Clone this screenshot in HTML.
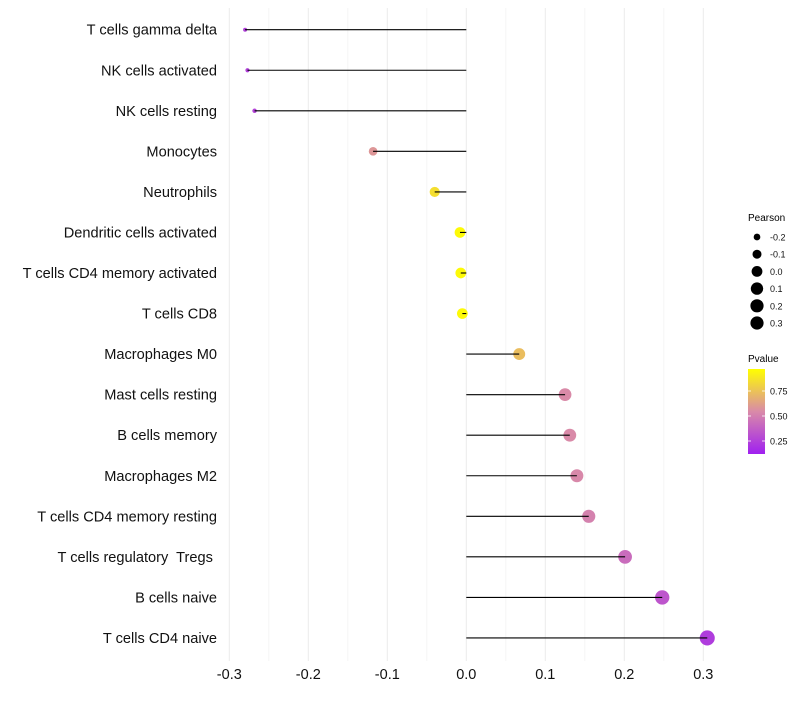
<!DOCTYPE html>
<html><head><meta charset="utf-8"><style>
body{margin:0;background:#fff;font-family:"Liberation Sans",sans-serif}
text{white-space:pre}
</style></head><body>
<svg id="chart" width="800" height="700" xmlns="http://www.w3.org/2000/svg">
<g id="grid"></g><g id="marks"></g><g id="labels"></g>
<g id="legend">
<text x="748" y="221" font-size="10">Pearson</text>
<g id="sizeleg"></g>
<text x="748" y="362" font-size="10">Pvalue</text>
<defs><linearGradient id="pg" x1="0" y1="1" x2="0" y2="0">
<stop offset="0" stop-color="#a020f0"/><stop offset="0.5" stop-color="#d98aa8"/><stop offset="1" stop-color="#ffff00"/></linearGradient></defs>
<rect x="748" y="369" width="17" height="85" fill="url(#pg)"/>
<g id="cbticks"></g>
</g>
</svg>
<script>
const categories=["T cells gamma delta","NK cells activated","NK cells resting","Monocytes","Neutrophils","Dendritic cells activated","T cells CD4 memory activated","T cells CD8","Macrophages M0","Mast cells resting","B cells memory","Macrophages M2","T cells CD4 memory resting","T cells regulatory  Tregs ","B cells naive","T cells CD4 naive"];
const pearson=[-0.280,-0.277,-0.268,-0.118,-0.040,-0.008,-0.007,-0.005,0.067,0.125,0.131,0.140,0.155,0.201,0.248,0.305];
const pvalue=[0.15,0.15,0.17,0.55,0.86,0.98,0.98,0.98,0.72,0.5,0.5,0.49,0.46,0.36,0.25,0.13];
const xTicks=[-0.3,-0.2,-0.1,0.0,0.1,0.2,0.3];
const sizeLegend=[-0.2,-0.1,0.0,0.1,0.2,0.3];
const pTicks=[0.25,0.50,0.75];
const NS="http://www.w3.org/2000/svg";
const x=v=>466.3+v*790;
const y=i=>29.7+i*40.55;
const r=v=>Math.sqrt(Math.max(1,4+90*(v+0.28)));
function hex(h){return [1,3,5].map(k=>parseInt(h.substr(k,2),16));}
function col(p){const a=hex("#a020f0"),m=hex("#d98aa8"),b=hex("#ffff00");let c0,c1,t;
 if(p<0.5){c0=a;c1=m;t=p/0.5}else{c0=m;c1=b;t=(p-0.5)/0.5}
 return "rgb("+c0.map((c,k)=>Math.round(c+(c1[k]-c)*t)).join(",")+")";}
function mk(t,a,parent){const e=document.createElementNS(NS,t);for(const k in a)e.setAttribute(k,a[k]);parent.appendChild(e);return e;}
const grid=document.getElementById("grid"),marks=document.getElementById("marks"),labels=document.getElementById("labels");
for(let v=-0.3;v<=0.301;v+=0.05){const g=mk("line",{x1:x(v),x2:x(v),y1:8,y2:661,stroke:Math.abs(Math.round(v*100)%10)===5?"#f4f4f4":"#ebebeb","stroke-width":1},grid);

}
xTicks.forEach(v=>{const t=mk("text",{x:x(v),y:679,"font-size":14.5,"text-anchor":"middle",fill:"#111"},labels);t.textContent=v.toFixed(1);

});
categories.forEach((c,i)=>{
 const t=mk("text",{x:217,y:y(i)+5,"font-size":14.6,"text-anchor":"end",fill:"#111"},labels);t.textContent=c;
 
 
 const d=mk("circle",{cx:x(pearson[i]),cy:y(i),r:r(pearson[i]),fill:col(pvalue[i])},marks);
 
 
 const l=mk("line",{x1:x(0),x2:x(pearson[i]),y1:y(i),y2:y(i),stroke:"#000","stroke-width":1.1},marks);
 
 
});
const sl=document.getElementById("sizeleg");
sizeLegend.forEach((v,k)=>{const cy=237+k*17.2;
 const c=mk("circle",{cx:757,cy:cy,r:Math.min(6.6,r(v)),fill:"#000"},sl);
 
 
 const t=mk("text",{x:770,y:cy+3.5,"font-size":9,fill:"#111"},sl);t.textContent=v.toFixed(1);
 
 });
const cb=document.getElementById("cbticks");
pTicks.forEach(p=>{const yy=466-p*100;
 mk("line",{x1:748,x2:751,y1:yy,y2:yy,stroke:"#fff","stroke-width":0.8},cb);
 mk("line",{x1:762,x2:765,y1:yy,y2:yy,stroke:"#fff","stroke-width":0.8},cb);
 const t=mk("text",{x:770,y:yy+3.5,"font-size":9,fill:"#111"},cb);t.textContent=p.toFixed(2);
 
 });
</script>
</body></html>
